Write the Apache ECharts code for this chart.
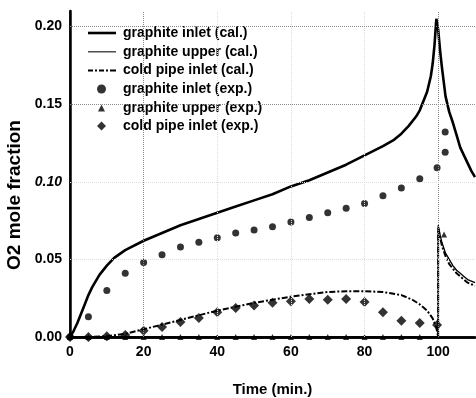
<!DOCTYPE html>
<html><head><meta charset="utf-8">
<script src="https://cdn.jsdelivr.net/npm/echarts@6/dist/echarts.min.js"></script>
<style>html,body{margin:0;padding:0;background:#fff}#c{width:476px;height:398px}</style>
</head><body><div id="c"></div>
<script>
// calculated curves: [time, O2 mole fraction]
const graphiteInletCal = [[0,0],[1,0.004],[2,0.009],[3,0.015],[4,0.021],[5,0.027],[6,0.032],[8,0.040],[10,0.046],[12,0.051],[15,0.056],[20,0.062],[25,0.067],[30,0.072],[35,0.076],[40,0.080],[45,0.084],[50,0.088],[55,0.092],[60,0.097],[65,0.101],[70,0.106],[75,0.111],[80,0.117],[85,0.123],[88,0.127],[90,0.131],[92,0.136],[94,0.142],[95,0.146],[96,0.152],[97,0.158],[98,0.168],[98.5,0.176],[99,0.188],[99.5,0.205],[100,0.198],[100.5,0.185],[101,0.174],[102,0.155],[103,0.145],[104,0.138],[105,0.130],[106,0.122],[107,0.117],[108,0.112],[109,0.107],[110,0.103]];
const graphiteUpperCal = [[0,0],[100,0],[100,0.072],[100.5,0.066],[101,0.061],[102,0.054],[103,0.050],[104,0.046],[105,0.043],[106,0.041],[107,0.039],[108,0.037],[109,0.036],[110,0.035]];
const coldPipeInletCal = [[0,0],[5,0],[10,0.0005],[15,0.002],[20,0.005],[25,0.008],[30,0.011],[35,0.014],[40,0.017],[45,0.0195],[50,0.022],[55,0.024],[60,0.026],[65,0.0275],[70,0.029],[75,0.0295],[80,0.0295],[85,0.029],[90,0.027],[93,0.024],[95,0.021],[97,0.017],[98.5,0.012],[99.5,0.006],[100,0],[100,0.070],[101,0.059],[102,0.052],[103,0.047],[104,0.044],[105,0.041],[106,0.039],[107,0.037],[108,0.035],[109,0.034],[110,0.033]];
// experimental points
const graphiteInletExp = [[0,0],[5,0.013],[10,0.030],[15,0.041],[20,0.048],[25,0.053],[30,0.058],[35,0.061],[40,0.064],[45,0.067],[50,0.069],[55,0.071],[60,0.074],[65,0.077],[70,0.080],[75,0.083],[80,0.086],[85,0.091],[90,0.096],[95,0.102],[99.7,0.109],[101.9,0.119],[101.9,0.132]];
const graphiteUpperExp = [[0,0],[5,0],[10,0],[15,0],[20,0],[25,0],[30,0],[35,0],[40,0],[45,0],[50,0],[55,0],[60,0],[65,0],[70,0],[75,0],[80,0],[85,0],[90,0],[95,0],[101.6,0.066]];
const coldPipeInletExp = [[0,0],[5,0],[10,0.0005],[15,0.0013],[20,0.004],[25,0.0065],[30,0.0097],[35,0.0122],[40,0.016],[45,0.0187],[50,0.0203],[55,0.022],[60,0.023],[65,0.0244],[70,0.024],[75,0.0244],[80,0.0225],[85,0.016],[90,0.0105],[95,0.009],[99.7,0.0077]];
const seriesNames = ['graphite inlet (cal.)','graphite upper (cal.)','cold pipe inlet (cal.)','graphite inlet (exp.)','graphite upper (exp.)','cold pipe inlet (exp.)'];
const strongGridX = [20, 100];
const faintGridX = [40, 60, 80];
const strongGridY = [0.15, 0.20];
const faintGridY = [0.05, 0.10];

const FONT = 'Liberation Sans, Arial, sans-serif';
const chart = echarts.init(document.getElementById('c'), null, {renderer:'canvas'});
const gridLines = [];
strongGridX.forEach(v => gridLines.push({xAxis: v, lineStyle:{color:'#888'}}));
faintGridX.forEach(v => gridLines.push({xAxis: v, lineStyle:{color:'#ddd'}}));
strongGridY.forEach(v => gridLines.push({yAxis: v, lineStyle:{color:'#888'}}));
faintGridY.forEach(v => gridLines.push({yAxis: v, lineStyle:{color:'#ddd'}}));

const legendText = {fontFamily:FONT, fontWeight:'bold', fontSize:14, color:'#000', lineHeight:16};
function mkLegend(names, icons, left, top, w, h, padL){
  return {
    orient:'vertical', left:left, top:top, itemWidth:w, itemHeight:h, itemGap:2.8,
    selectedMode:false, symbolKeepAspect:true,
    textStyle:Object.assign({}, legendText, {padding:[0,0,0,padL]}),
    data:names.map((n,i)=> icons[i] ? {name:n, icon:icons[i]} : {name:n})
  };
}
const ICON_THICK = 'path://M0,0H28V2.6H0Z';
const ICON_THIN = 'path://M0,0H28V1.3H0Z';
const ICON_DASHDOT = 'path://M0,0h5v2h-5zM7,0h2v2h-2zM11,0h5v2h-5zM18,0h2v2h-2zM22,0h6v2h-6z';

chart.setOption({
  animation:false,
  backgroundColor:'#fff',
  grid:{left:70, right:1, top:11, bottom:61, outerBoundsMode:'none', containLabel:false},
  legend:[
    mkLegend(seriesNames.slice(0,3), [ICON_THICK, ICON_THIN, ICON_DASHDOT], 83, 20, 28, 10, 2),
    mkLegend([seriesNames[3]], [null], 92, 76, 9, 9, 12),
    mkLegend([seriesNames[4]], [null], 93, 95, 7, 7, 13),
    mkLegend([seriesNames[5]], [null], 92, 113, 9, 9, 12)
  ],
  xAxis:[{
    type:'value', min:0, max:110, interval:20,
    name:'Time (min.)', nameLocation:'middle', nameGap:45,
    nameTextStyle:{fontFamily:FONT, fontWeight:'bold', fontSize:15, color:'#000'},
    axisLine:{show:true, onZero:false, lineStyle:{color:'#000', width:2.5}},
    axisTick:{show:false},
    axisLabel:{fontFamily:FONT, fontWeight:'bold', fontSize:14, color:'#000', margin:8, showMaxLabel:false},
    splitLine:{show:false}
  },{
    type:'value', min:0, max:110, position:'top',
    axisLine:{show:true, lineStyle:{color:'#000', width:2.5}},
    axisTick:{show:false}, axisLabel:{show:false}, splitLine:{show:false}
  }],
  yAxis:[{
    type:'value', min:0, max:0.21, interval:0.05,
    name:'O2 mole fraction', nameLocation:'middle', nameGap:46, nameRotate:90,
    nameTextStyle:{fontFamily:FONT, fontWeight:'bold', fontSize:19, color:'#000', padding:[0,42,0,0]},
    axisLine:{show:true, onZero:false, lineStyle:{color:'#000', width:2.5}},
    axisTick:{show:false},
    axisLabel:{fontFamily:FONT, fontWeight:'bold', fontSize:14, color:'#000', margin:8, showMaxLabel:false,
      formatter: v => Math.abs(v-0.1)<1e-9 ? '{i|0.10}' : v.toFixed(2),
      rich:{i:{fontFamily:FONT, fontWeight:'bold', fontStyle:'italic', fontSize:14, color:'#000'}}},
    splitLine:{show:false}
  },{
    type:'value', min:0, max:0.21, position:'right',
    axisLine:{show:true, lineStyle:{color:'#000', width:1.5}},
    axisTick:{show:false}, axisLabel:{show:false}, splitLine:{show:false}
  }],
  series:[
    {name:'gridlines', type:'line', data:[], silent:true,
      markLine:{silent:true, symbol:'none', label:{show:false}, lineStyle:{type:'dotted', width:1}, data:gridLines}},
    {name:seriesNames[0], type:'line', data:graphiteInletCal, symbol:'none', lineStyle:{color:'#000', width:2.6}, itemStyle:{color:'#000'}, z:3},
    {name:seriesNames[1], type:'line', data:graphiteUpperCal, symbol:'none', lineStyle:{color:'#000', width:1.3}, itemStyle:{color:'#333'}, z:3},
    {name:seriesNames[2], type:'line', data:coldPipeInletCal, symbol:'none', lineStyle:{color:'#000', width:2, type:[6,2,2,2]}, itemStyle:{color:'#000'}, z:3},
    {name:seriesNames[3], type:'scatter', data:graphiteInletExp, symbol:'circle', symbolSize:7, itemStyle:{color:'#000'}, z:4},
    {name:seriesNames[4], type:'scatter', data:graphiteUpperExp, symbol:'triangle', symbolSize:6, itemStyle:{color:'#000'}, z:4},
    {name:seriesNames[5], type:'scatter', data:coldPipeInletExp, symbol:'diamond', symbolSize:10, itemStyle:{color:'#000'}, z:4}
  ]
});
</script></body></html>
